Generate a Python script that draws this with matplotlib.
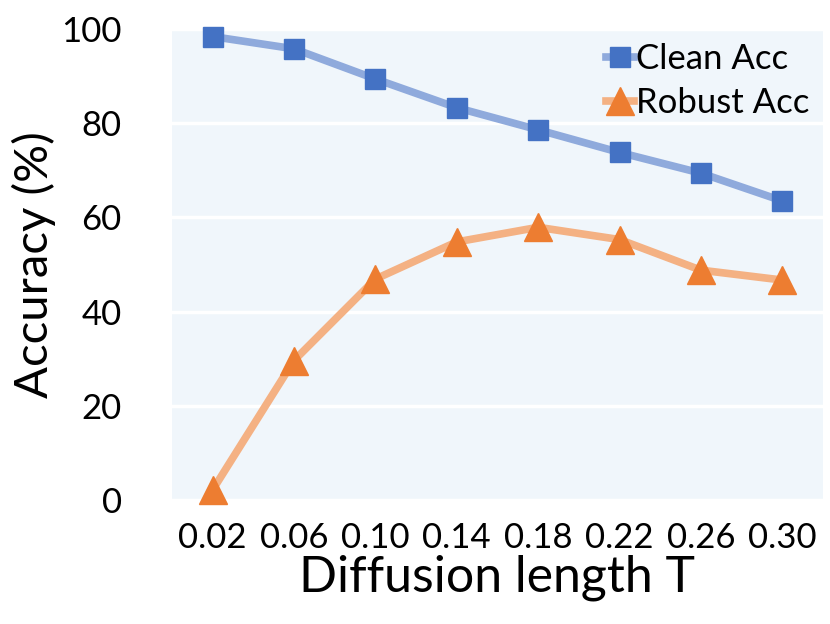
import matplotlib.pyplot as plt
import numpy as np

plt.rcParams['font.family'] = ['Lato', 'DejaVu Sans']

# Dados
t_labels = ['0.02', '0.06', '0.10', '0.14', '0.18', '0.22', '0.26', '0.30']
clean_acc = [98.4, 95.8, 89.4, 83.3, 78.6, 73.8, 69.4, 63.5]
robust_acc = [2.1, 29.6, 46.9, 54.8, 57.9, 55.3, 48.8, 46.7]

x = np.arange(len(t_labels))

fig = plt.figure(figsize=(8.3, 6.24), dpi=100)
ax = fig.add_axes([0.207, 0.1987, 0.7846, 0.7548])
ax.set_facecolor('#F0F6FB')

ax.plot(x, clean_acc, color='#8FAADC', linewidth=5.5, marker='s', markersize=15,
        markerfacecolor='#4472C4', markeredgecolor='#4472C4', label='Clean Acc',
        clip_on=False, zorder=3)
ax.plot(x, robust_acc, color='#F4B183', linewidth=5.5, marker='^', markersize=20,
        markerfacecolor='#ED7D31', markeredgecolor='#ED7D31', label='Robust Acc',
        clip_on=False, zorder=3)

ax.set_xlim(-0.5, len(t_labels) - 0.5)
ax.set_ylim(0, 100)
ax.set_yticks([0, 20, 40, 60, 80, 100])
ax.set_xticks(x)
ax.set_xticklabels(t_labels)
ax.grid(axis='y', color='white', linewidth=2.5)
ax.set_axisbelow(True)
for s in ax.spines.values():
    s.set_visible(False)
ax.tick_params(axis='both', length=0, labelsize=25)
ax.tick_params(axis='y', pad=36)
ax.tick_params(axis='x', pad=16)

ax.set_ylabel('Accuracy (%)', fontsize=34, labelpad=4)
ax.set_xlabel('Diffusion length T', fontsize=36, labelpad=0)

ax.legend(loc='upper right', fontsize=25, frameon=False, handlelength=0.8,
          handletextpad=0.05, borderaxespad=0.0, labelspacing=0.35)

plt.savefig('out.png')
